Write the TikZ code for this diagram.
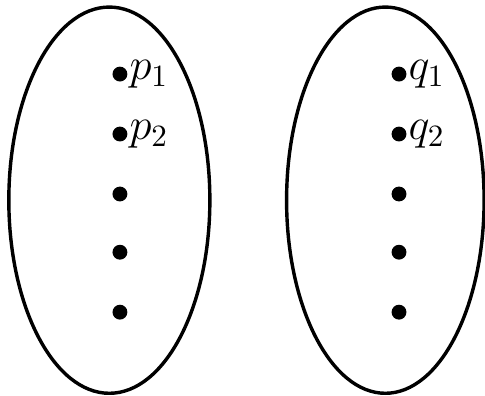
\documentclass[tikz,border=0pt]{standalone}
\usepackage{amsmath}
\usepackage{amssymb}
\usetikzlibrary{positioning}

\tikzset{
    pt/.style={circle, fill=black, inner sep=0pt, minimum size=4.8pt},
    lbl/.style={inner sep=0.3pt, font=\fontsize{14}{16}\selectfont}
}

\begin{document}
\begin{tikzpicture}
        \useasboundingbox (0,0) rectangle (5.5,4.49);

        % the two sets
        \draw[line width=1.1pt] (1.24,2.22) ellipse (1.14 and 2.19);
        \draw[line width=1.1pt] (4.37,2.22) ellipse (1.12 and 2.19);

        % points
        \foreach \i/\y in {1/3.65, 2/2.97, 3/2.29, 4/1.63, 5/0.95} {
            \node[pt] (p\i) at (1.36,\y) {};
            \node[pt] (q\i) at (4.525,\y) {};
        }

        \node[lbl, right=0pt of p1] (lp1) {$p_1$};
        \node[lbl, right=0pt of p2] (lp2) {$p_2$};
        \node[lbl, right=0pt of q1] (lq1) {$q_1$};
        \node[lbl, right=0pt of q2] (lq2) {$q_2$};
    \end{tikzpicture}
\end{document}
